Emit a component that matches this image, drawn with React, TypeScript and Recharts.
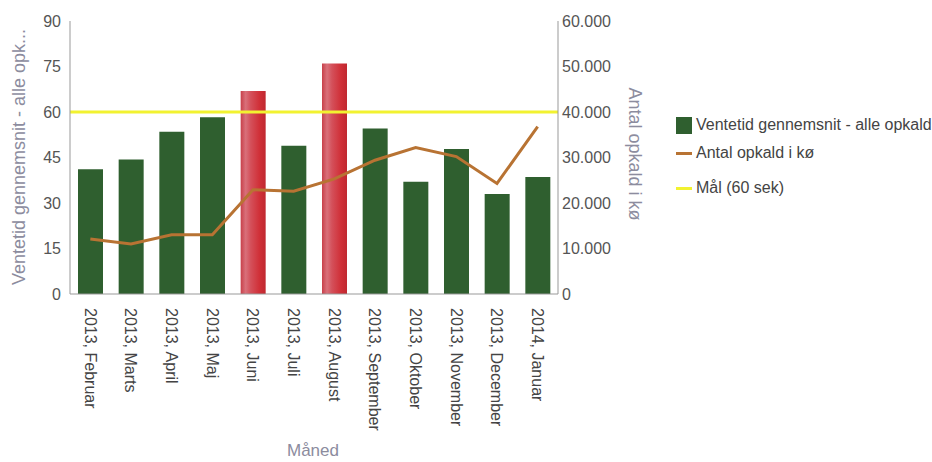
import React from 'react';
import { ComposedChart, Bar, Line, Cell, XAxis, YAxis, ReferenceLine } from 'recharts';

const months = [
  '2013, Februar', '2013, Marts', '2013, April', '2013, Maj', '2013, Juni', '2013, Juli',
  '2013, August', '2013, September', '2013, Oktober', '2013, November', '2013, December', '2014, Januar',
];
const waitTime = [41.1, 44.3, 53.5, 58.3, 66.9, 48.9, 76.0, 54.6, 37.0, 47.8, 33.0, 38.6];
const queuedCalls = [12100, 11000, 13000, 13000, 22900, 22600, 25300, 29400, 32200, 30200, 24300, 36800];
const leftTicks = [0, 15, 30, 45, 60, 75, 90];
const rightTicks = [0, 10000, 20000, 30000, 40000, 50000, 60000];
const GOAL = 60;

const data = months.map((m, i) => ({ month: m, wait: waitTime[i], calls: queuedCalls[i] }));

const FONT = '"Liberation Sans", Arial, sans-serif';
const GREEN = '#2f5f2f';
const LINE = '#b87333';
const YELLOW = '#f2f230';
const TITLE = '#8c8c9e';

const fmt = (v: number) => v.toLocaleString('de-DE');

const MonthTick = (props: any) => {
  const { x, y, payload } = props;
  return (
    <text x={x} y={y} dy="0.35em" transform={`rotate(90, ${x}, ${y})`} textAnchor="start"
      fontFamily={FONT} fontSize={16} fill="#444">
      {payload.value}
    </text>
  );
};

const LegendBox = () => (
  <div style={{ position: 'absolute', left: 676, top: 115, fontFamily: FONT, fontSize: 16, color: '#444', whiteSpace: 'nowrap' }}>
    <div style={{ display: 'flex', alignItems: 'center', height: 20 }}>
      <span style={{ width: 16, height: 17, background: GREEN, marginRight: 4 }} />
      Ventetid gennemsnit - alle opkald
    </div>
    <div style={{ display: 'flex', alignItems: 'center', height: 20, marginTop: 8 }}>
      <span style={{ width: 16, height: 3, background: LINE, marginRight: 4 }} />
      Antal opkald i kø
    </div>
    <div style={{ display: 'flex', alignItems: 'center', height: 20, marginTop: 15 }}>
      <span style={{ width: 16, height: 3, background: YELLOW, marginRight: 4 }} />
      Mål (60 sek)
    </div>
  </div>
);

export default function App() {
  return (
    <div style={{ position: 'absolute', left: 0, top: 0, width: 932, height: 462 }}>
      <ComposedChart width={932} height={462} data={data}
        margin={{ top: 21, right: 294, left: 0, bottom: 0 }} barCategoryGap={8}>
        <defs>
          <linearGradient id="redBar" x1="0" y1="0" x2="1" y2="0">
            <stop offset="0%" stopColor="#c8404a" />
            <stop offset="20%" stopColor="#d9707a" />
            <stop offset="40%" stopColor="#d4505a" />
            <stop offset="75%" stopColor="#d03038" />
            <stop offset="100%" stopColor="#c02830" />
          </linearGradient>
        </defs>
        <XAxis dataKey="month" interval={0} height={168} tickLine={false}
          stroke="#999" tick={<MonthTick />} tickMargin={8}
          label={(p: any) => (
            <text x={313} y={456} textAnchor="middle" fontFamily={FONT} fontSize={17} fill={TITLE}>Måned</text>
          )} />
        <YAxis yAxisId="left" orientation="left" width={70} domain={[0, 90]} ticks={leftTicks}
          stroke="#999" tickLine={false} tickSize={6} tickMargin={3}
          tick={{ fontFamily: FONT, fontSize: 16, fill: '#555' }}
          label={(p: any) => (
            <text x={19} y={157} transform="rotate(-90, 19, 157)" textAnchor="middle" dy="0.35em"
              fontFamily={FONT} fontSize={18} fill={TITLE}>Ventetid gennemsnit - alle opk...</text>
          )} />
        <YAxis yAxisId="right" orientation="right" width={80} domain={[0, 60000]} ticks={rightTicks}
          stroke="#999" tickLine={false} tickSize={4} tickMargin={0} tickFormatter={fmt}
          tick={{ fontFamily: FONT, fontSize: 16, fill: '#555' }}
          label={(p: any) => (
            <text x={635} y={154} transform="rotate(90, 635, 154)" textAnchor="middle" dy="0.35em"
              fontFamily={FONT} fontSize={18} fill={TITLE}>Antal opkald i kø</text>
          )} />
        <Bar yAxisId="left" dataKey="wait" isAnimationActive={false}>
          {data.map((d, i) => (
            <Cell key={i} fill={d.wait > GOAL ? 'url(#redBar)' : GREEN} />
          ))}
        </Bar>
        <ReferenceLine yAxisId="left" y={GOAL} stroke={YELLOW} strokeWidth={3} />
        <Line yAxisId="right" dataKey="calls" type="linear" stroke={LINE} strokeWidth={3}
          dot={false} isAnimationActive={false} />
      </ComposedChart>
      <LegendBox />
    </div>
  );
}
